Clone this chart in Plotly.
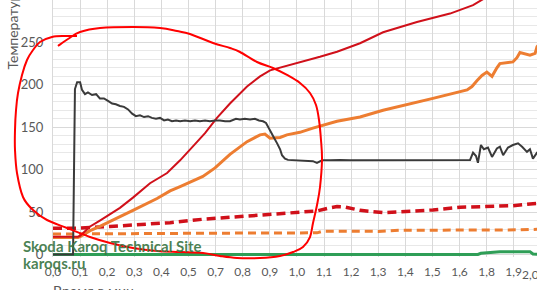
import plotly.graph_objects as go

# ---- data (x in time-slot positions along the category axis) ----
tick_labels = ["0,0", "0,1", "0,2", "0,3", "0,4", "0,5", "0,7", "0,8", "0,9", "1,0",
               "1,1", "1,2", "1,3", "1,4", "1,5", "1,6", "1,8", "1,9", "2,0"]

black_x = [0.00, 0.70, 0.74, 0.81, 0.89, 1.00, 1.07, 1.18, 1.29, 1.44, 1.59, 1.73, 1.88, 2.03, 2.18,
           2.32, 2.47, 2.62, 2.77, 2.92, 3.06, 3.21, 3.36, 3.51, 3.65, 3.80, 3.95, 4.10, 4.24, 4.39,
           4.54, 4.69, 4.87, 5.06, 5.24, 5.42, 5.61, 5.79, 5.98, 6.16, 6.35, 6.53, 6.75, 6.90, 7.08,
           7.27, 7.45, 7.60, 7.75, 7.86, 8.01, 8.15, 8.27, 8.38, 8.45, 8.56, 8.67, 8.93, 9.30, 9.59,
           9.74, 9.93, 10.22, 10.59, 10.96, 11.33, 11.70, 12.07, 12.44, 12.80, 13.17, 13.54, 13.91,
           14.28, 14.65, 15.02, 15.39, 15.50, 15.61, 15.68, 15.79, 15.90, 16.05, 16.20, 16.38, 16.49,
           16.61, 16.79, 16.97, 17.16, 17.31, 17.49, 17.60, 17.71, 17.86, 18.00]
black_y = [0, 0, 0, 195, 203, 203, 194, 189, 191, 188, 189, 184, 184, 181, 178,
           177, 175, 174, 171, 166, 163, 164, 162, 163, 161, 160, 161, 158, 159, 157,
           158, 157, 158, 157, 158, 157, 158, 157, 158, 158, 157, 157, 160, 159, 160,
           159, 160, 158, 157, 155, 147, 138, 131, 124, 117, 113, 111.5, 111, 111, 110,
           108, 111, 111, 111.5, 111, 111, 111.5, 111, 111, 111.5, 111, 111, 111.5,
           111, 111, 111, 111.5, 120, 116, 108, 129, 124, 126, 115, 125, 127,
           117, 126, 129, 131, 127, 121, 124, 113, 120, 119]

red_x = [0.00, 0.92, 1.00, 1.18, 1.37, 1.73, 2.10, 2.47, 2.95, 3.58, 4.21, 4.69, 5.24, 5.61, 6.05,
         6.53, 7.16, 7.64, 8.01, 8.49, 9.23, 9.85, 10.48, 10.96, 11.33, 12.18, 13.43, 14.65, 15.50,
         15.87, 16.20]
red_y = [21, 21, 22, 27, 33, 40, 47, 55, 67, 84, 96, 111, 130, 143, 161,
         178, 198, 210, 217, 221, 227, 233, 239, 245, 249, 262, 274, 284, 294,
         301, 309]

orange_x = [0.00, 0.92, 1.00, 1.11, 1.37, 1.73, 2.10, 2.95, 3.84, 4.32, 4.69, 5.53, 5.98, 6.53, 7.16,
            7.64, 7.82, 8.01, 8.38, 8.63, 9.11, 9.59, 10.48, 11.33, 12.18, 13.43, 14.02, 15.28, 15.46,
            15.65, 15.83, 16.01, 16.20, 16.38, 16.49, 16.97, 17.12, 17.23, 17.42, 17.60, 17.79, 17.86,
            18.00]
orange_y = [20, 20, 21, 23, 28, 33, 39, 52, 66, 75, 80, 92, 102, 118, 133,
            141, 142, 137, 138, 141, 144, 149, 157, 162, 170, 179, 184, 194, 198,
            205, 211, 215, 210, 220, 225, 227, 232, 238, 236, 235, 237, 245,
            250]

red_dash_x = [0.00, 1.00, 2.10, 3.21, 4.32, 5.53, 6.79, 8.01, 9.23, 9.74, 10.22, 10.48, 10.77, 10.96,
              11.33, 12.18, 13.06, 14.02, 15.02, 16.13, 16.97, 17.60, 17.86, 18.00]
red_dash_y = [31, 31, 33, 35, 37.5, 41.5, 44.6, 46.6, 49.7, 51.3, 55, 56.4, 56, 54.5,
              52, 49.3, 50.5, 52.5, 55.6, 57.2, 57.5, 59.5, 60.3, 60.5]

orange_dash_x = [0.00, 1.73, 5.42, 9.74, 9.96, 12.00, 12.80, 17.23, 17.86, 18.00]
orange_dash_y = [24, 24.5, 25, 25.5, 27.5, 27.2, 28.5, 29, 29.7, 29.8]

green_x = [0.00, 15.68, 15.79, 16.05, 16.49, 17.60, 17.71, 18.00]
green_y = [0, 0, 1.4, 2, 3.3, 3.3, 0.5, 0]

# ---- geometry of the cropped view ----
W, H = 537, 290
L, B, T = 53, 33, 0
PW, PH = W - L, H - B - T
slot = 27.1
x_max = PW / slot

fig = go.Figure()
fig.add_trace(go.Scatter(x=green_x, y=green_y, mode="lines", line=dict(color="#2f9e57", width=3)))
fig.add_trace(go.Scatter(x=orange_dash_x, y=orange_dash_y, mode="lines",
                         line=dict(color="#ed7d31", width=3, dash="8px,5px")))
fig.add_trace(go.Scatter(x=red_dash_x, y=red_dash_y, mode="lines",
                         line=dict(color="#d0101a", width=3.5, dash="9px,5px")))
fig.add_trace(go.Scatter(x=orange_x, y=orange_y, mode="lines", line=dict(color="#ed7d31", width=3)))
fig.add_trace(go.Scatter(x=red_x, y=red_y, mode="lines", line=dict(color="#d0101a", width=2)))
fig.add_trace(go.Scatter(x=black_x, y=black_y, mode="lines", line=dict(color="#3a3a3a", width=2)))


def px2paper(px, py):
    return (px - L) / PW, (H - B - py) / PH


# hand-drawn red circle annotation (pixel outline of the freehand stroke)
circle_px = [(58, 46), (68, 39), (80, 32), (100, 28), (133, 27), (160, 28), (177, 31), (190, 34),
             (213, 43), (230, 48), (240, 52), (257, 62), (273, 68), (287, 75), (300, 83), (310, 93),
             (316, 105), (319, 120), (321, 140), (322, 160), (320, 187), (317, 205), (313, 223),
             (310, 237), (303, 247), (293, 252), (280, 256), (260, 258), (237, 258), (220, 256),
             (203, 253), (180, 252), (157, 251), (133, 248), (110, 243), (90, 237), (67, 228),
             (47, 220), (33, 210), (23, 197), (17, 173), (15, 150), (15, 130), (16, 110), (18, 93),
             (22, 75), (27, 60), (33, 50), (40, 42), (52, 37), (65, 36), (77, 36)]
pts = [px2paper(a, b) for a, b in circle_px]
path = "M %.4f,%.4f" % pts[0]
for i in range(len(pts) - 1):
    p0 = pts[i - 1] if i > 0 else pts[i]
    p1, p2 = pts[i], pts[i + 1]
    p3 = pts[i + 2] if i + 2 < len(pts) else pts[i + 1]
    c1 = (p1[0] + (p2[0] - p0[0]) / 6, p1[1] + (p2[1] - p0[1]) / 6)
    c2 = (p2[0] - (p3[0] - p1[0]) / 6, p2[1] - (p3[1] - p1[1]) / 6)
    path += " C %.4f,%.4f %.4f,%.4f %.4f,%.4f" % (c1 + c2 + p2)
fig.add_shape(type="path", path=path, xref="paper", yref="paper",
              line=dict(color="#ff0000", width=2), layer="above")

tick_font = dict(family="Lato", size=12, color="#595959")
ytick_font = dict(family="Lato", size=13, color="#595959")

fig.update_layout(
    width=W, height=H, margin=dict(l=L, r=0, t=T, b=B, pad=0),
    paper_bgcolor="white", plot_bgcolor="white", showlegend=False,
    xaxis=dict(range=[0, x_max], tickmode="array", tickvals=list(range(len(tick_labels))),
               ticktext=tick_labels, showgrid=True, gridcolor="#d9d9d9", gridwidth=1,
               zeroline=False, ticks="outside", ticklen=4, tickcolor="rgba(0,0,0,0)",
               tickfont=tick_font, showline=False),
    yaxis=dict(range=[-3, 300], tickvals=[0, 50, 100, 150, 200, 250, 300],
               showgrid=True, gridcolor="#d9d9d9", gridwidth=1,
               minor=dict(dtick=10, showgrid=True, gridcolor="#e8e8e8", gridwidth=1),
               zeroline=False, ticks="outside", ticklen=6, tickcolor="rgba(0,0,0,0)",
               tickfont=ytick_font, showline=True, linecolor="#d9d9d9"),
)

# out-of-view last tick label (partially visible at the right edge)
lx, _ = px2paper(L + slot * 18, 0)
fig.add_annotation(text=tick_labels[-1], x=lx, y=0, xref="paper", yref="paper", yanchor="top",
                   yshift=-8, showarrow=False, font=tick_font)

# axis titles (cropped in the original)
tx, ty = px2paper(12, 72)
fig.add_annotation(text="Температуры, °C", x=tx, y=ty, xref="paper", yref="paper",
                   textangle=-90, xanchor="center", yanchor="bottom", showarrow=False,
                   font=dict(family="Lato", size=14, color="#595959"))
ax, ay = px2paper(93, 280)
fig.add_annotation(text="Время в мин", x=ax, y=ay, xref="paper", yref="paper",
                   xanchor="center", yanchor="top", showarrow=False,
                   font=dict(family="Lato", size=14, color="#595959"))

# watermark
wm_font = dict(family="Lato", size=15, color="rgba(58,118,68,0.92)")
wx, wy = px2paper(21, 246)
fig.add_annotation(text="<b>Skoda Karoq Technical Site</b>", x=wx, y=wy, xref="paper", yref="paper",
                   xanchor="left", yanchor="middle", showarrow=False, font=wm_font)
wx2, wy2 = px2paper(21, 263)
fig.add_annotation(text="<b>karoqs.ru</b>", x=wx2, y=wy2, xref="paper", yref="paper",
                   xanchor="left", yanchor="middle", showarrow=False, font=wm_font)

fig.write_html("out.html")
